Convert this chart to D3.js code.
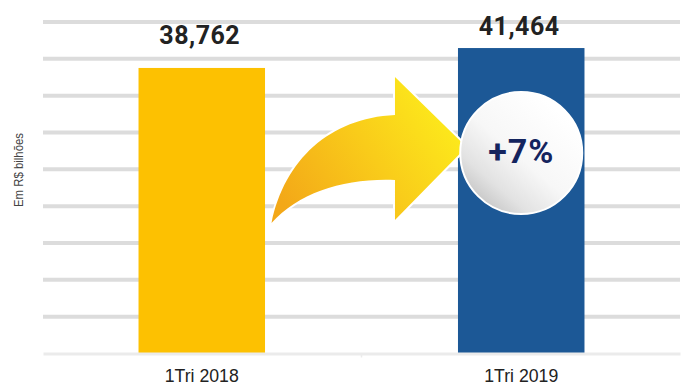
<!DOCTYPE html>
<html>
<head>
<meta charset="utf-8">
<script src="https://cdn.jsdelivr.net/npm/d3@7/dist/d3.min.js"></script>
<style>
  html, body { margin: 0; padding: 0; background: #fff; }
  svg { display: block; }
</style>
</head>
<body>
<svg id="chart" width="682" height="392"></svg>
<script>
// ---- data ----
const categories = ["1Tri 2018", "1Tri 2019"];
const values = [38762, 41464];
const valueLabels = ["38,762", "41,464"];
const yTicks = [0, 5000, 10000, 15000, 20000, 25000, 30000, 35000, 40000, 45000];
const changeLabel = "+7%";
const yTitle = "Em R$ bilhões";
const barColors = ["#fdc101", "#1c5896"];

// ---- layout ----
const plotLeft = 43, plotRight = 680, plotTop = 22, plotBottom = 353.5;

const svg = d3.select("#chart");

const x = d3.scaleBand()
  .domain(categories)
  .range([plotLeft, plotRight])
  .paddingInner(0.604)
  .paddingOuter(0.299);

const y = d3.scaleLinear()
  .domain([0, d3.max(yTicks)])
  .range([plotBottom, plotTop]);

const defs = svg.append("defs");

const ag = defs.append("linearGradient")
  .attr("id", "arrowGrad")
  .attr("x1", "0%").attr("y1", "75%")
  .attr("x2", "100%").attr("y2", "25%");
ag.append("stop").attr("offset", "0%").attr("stop-color", "#f3a818");
ag.append("stop").attr("offset", "50%").attr("stop-color", "#f9cc1a");
ag.append("stop").attr("offset", "100%").attr("stop-color", "#fdef1c");

const cg = defs.append("linearGradient")
  .attr("id", "circGrad")
  .attr("x1", "80%").attr("y1", "15%")
  .attr("x2", "15%").attr("y2", "90%");
cg.append("stop").attr("offset", "0%").attr("stop-color", "#ffffff");
cg.append("stop").attr("offset", "50%").attr("stop-color", "#f7f7f7");
cg.append("stop").attr("offset", "80%").attr("stop-color", "#e2e2e2");
cg.append("stop").attr("offset", "100%").attr("stop-color", "#c6c6c6");

// gridlines
svg.append("g")
  .selectAll("line")
  .data(yTicks.filter(t => t > 0))
  .join("line")
  .attr("x1", plotLeft).attr("x2", plotRight)
  .attr("y1", d => y(d)).attr("y2", d => y(d))
  .attr("stroke", "#dcdcdc")
  .attr("stroke-width", 4);

// bars
svg.append("g")
  .selectAll("rect")
  .data(values)
  .join("rect")
  .attr("x", (d, i) => x(categories[i]))
  .attr("width", x.bandwidth())
  .attr("y", d => y(d))
  .attr("height", d => y(0) - y(d))
  .attr("fill", (d, i) => barColors[i]);

// x axis baseline
const xAxis = d3.axisBottom(x).tickSize(0).tickFormat("");
const gx = svg.append("g").attr("transform", `translate(0,${y(0)})`).call(xAxis);
gx.select(".domain").attr("stroke", "#ebebeb").attr("stroke-width", 3);

// center tick between categories
svg.append("line")
  .attr("x1", (plotLeft + plotRight) / 2).attr("x2", (plotLeft + plotRight) / 2)
  .attr("y1", y(0)).attr("y2", y(0) + 4)
  .attr("stroke", "#ebebeb").attr("stroke-width", 1.5);

// category labels
svg.append("g")
  .selectAll("text")
  .data(categories)
  .join("text")
  .attr("x", d => x(d) + x.bandwidth() / 2)
  .attr("y", 381.5)
  .attr("text-anchor", "middle")
  .attr("font-family", "'Liberation Sans', Arial, sans-serif")
  .attr("font-size", 18)
  .attr("fill", "#222")
  .attr("textLength", 74)
  .attr("lengthAdjust", "spacingAndGlyphs")
  .text(d => d);

// value labels
const labelGap = [24, 13];
svg.append("g")
  .selectAll("text")
  .data(values)
  .join("text")
  .attr("x", (d, i) => x(categories[i]) + x.bandwidth() / 2 - 2)
  .attr("y", (d, i) => y(d) - labelGap[i])
  .attr("text-anchor", "middle")
  .attr("font-family", "Roboto, sans-serif")
  .attr("font-weight", 700)
  .attr("font-size", 25)
  .attr("letter-spacing", 0.5)
  .attr("fill", "#222")
  .text((d, i) => valueLabels[i]);

// y title
svg.append("text")
  .attr("transform", `translate(23,170) rotate(-90)`)
  .attr("text-anchor", "middle")
  .attr("font-family", "'Liberation Sans', Arial, sans-serif")
  .attr("font-size", 13.5)
  .attr("fill", "#444")
  .attr("textLength", 74)
  .attr("lengthAdjust", "spacingAndGlyphs")
  .text(yTitle);

// curved arrow (anchored to bar edges)
const ax0 = x(categories[0]) + x.bandwidth() + 6.5;   // tail
const ax1 = x(categories[1]) + 8.5;                    // tip
const hx = ax1 - 71.5;                                 // head back edge
const arrowPath = d3.path();
arrowPath.moveTo(ax0, 223);
arrowPath.bezierCurveTo(ax0 + 13, 160, ax0 + 58, 118, hx, 115);
arrowPath.lineTo(hx, 77);
arrowPath.lineTo(ax1, 147);
arrowPath.lineTo(hx, 220);
arrowPath.lineTo(hx, 180);
arrowPath.bezierCurveTo(hx - 50, 178, ax0 + 28, 192, ax0, 223);
arrowPath.closePath();

svg.append("path")
  .attr("d", arrowPath.toString())
  .attr("fill", "url(#arrowGrad)")
  .attr("stroke", "#fff")
  .attr("stroke-width", 4)
  .attr("stroke-linejoin", "round")
  .attr("paint-order", "stroke");

// change bubble
const cx = x(categories[1]) + x.bandwidth() / 2;
svg.append("circle")
  .attr("cx", cx).attr("cy", 153).attr("r", 61)
  .attr("fill", "url(#circGrad)")
  .attr("stroke", "#fff")
  .attr("stroke-width", 2);

svg.append("text")
  .attr("x", cx).attr("y", 163)
  .attr("text-anchor", "middle")
  .attr("font-family", "Roboto, sans-serif")
  .attr("font-weight", 700)
  .attr("font-size", 34)
  .attr("letter-spacing", 1)
  .attr("fill", "#14245e")
  .text(changeLabel);
</script>
</body>
</html>
